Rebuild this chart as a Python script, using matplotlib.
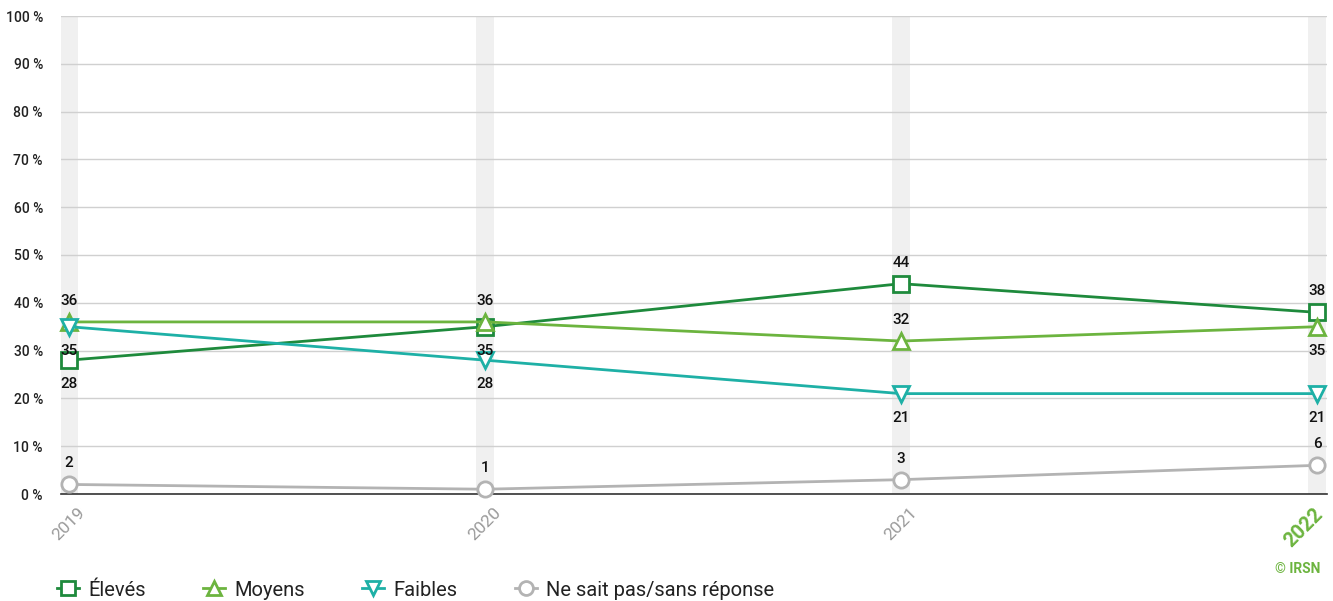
import matplotlib
matplotlib.use("Agg")
import matplotlib.pyplot as plt
import matplotlib.transforms as mtransforms
from matplotlib.lines import Line2D

plt.rcParams['font.family'] = ['Roboto', 'DejaVu Sans']

years = [2019, 2020, 2021, 2022]
year_labels = ["2019", "2020", "2021", "2022"]
eleves = [28, 35, 44, 38]
moyens = [36, 36, 32, 35]
faibles = [35, 28, 21, 21]
nsp = [2, 1, 3, 6]
yticks = [0, 10, 20, 30, 40, 50, 60, 70, 80, 90, 100]

series = [
    ("Élevés", eleves, "#1e8a3c", "s", ["below", "below", "above", "above"]),
    ("Moyens", moyens, "#6cb43f", "^", ["above", "above", "above", "below"]),
    ("Faibles", faibles, "#1eb0a6", "v", ["below", "below", "below", "below"]),
    ("Ne sait pas/sans réponse", nsp, "#b3b3b3", "o", ["above", "above", "above", "above"]),
]

W, H = 1333, 601
fig = plt.figure(figsize=(W / 100, H / 100), dpi=100)
L, R, B, T = 61, 1327, 494, 16
ax = fig.add_axes([L / W, (H - B) / H, (R - L) / W, (B - T) / H])

px_per_year = (1317 - 69) / 3
ax.set_xlim(2019 - (69 - L) / px_per_year, 2022 + (R - 1317) / px_per_year)
ax.set_ylim(0, 100)

# grey bands
band_w = 18 / px_per_year
for y in years:
    ax.axvspan(y - band_w / 2, y + band_w / 2, color="#f0f0f0", zorder=0, lw=0)

ax.set_yticks(yticks)
ax.set_yticklabels([f"{v} %" for v in yticks], fontsize=10, fontweight=500, color="#222222")
ax.grid(axis="y", color="#d0d0d0", lw=1, zorder=1)
ax.tick_params(axis="y", length=0, pad=13)
ax.set_xticks(years)
ax.set_xticklabels(year_labels, rotation=45, ha="center", va="top",
                   fontsize=12.5, color="#9a9a9a")
ax.tick_params(axis="x", length=0, pad=8)
tl = ax.get_xticklabels()[-1]
tl.set_color("#6cb43f"); tl.set_fontweight("bold"); tl.set_fontsize(14.5)
tl.set_transform(tl.get_transform() + mtransforms.ScaledTranslation(-13 / 100, 0, fig.dpi_scale_trans))
for s in ["top", "right", "left"]:
    ax.spines[s].set_visible(False)
ax.spines["bottom"].set_color("#333333")
ax.spines["bottom"].set_linewidth(1.2)

for name, vals, col, mk, pos in series:
    ax.plot(years, vals, color=col, lw=2, marker=mk, markersize=11, markerfacecolor="white",
            markeredgecolor=col, markeredgewidth=2, zorder=3, clip_on=False)
    for x, v, p in zip(years, vals, pos):
        off = 21 if p == "above" else -24
        ax.annotate(str(v), (x, v), xytext=(0, off * 0.72), textcoords="offset points",
                    ha="center", va="center", fontsize=11, fontweight=500,
                    color="#111111", zorder=4)

handles = [Line2D([], [], color=c, lw=2, marker=m, markersize=10, markerfacecolor="white",
                  markeredgecolor=c, markeredgewidth=2) for _, _, c, m, _ in series]
fig.legend(handles, [s[0] for s in series], loc="center left", bbox_to_anchor=(57 / W, 1 - 590 / H),
           ncol=4, frameon=False, fontsize=14.5, handlelength=1.1, columnspacing=2.85,
           handletextpad=0.45, borderpad=0, borderaxespad=0, labelcolor="#222222")

fig.text(1320 / W, 1 - 569 / H, "© IRSN", ha="right", va="center", fontsize=10,
         fontweight="bold", color="#6cb43f")

fig.savefig("out.png", dpi=100)
